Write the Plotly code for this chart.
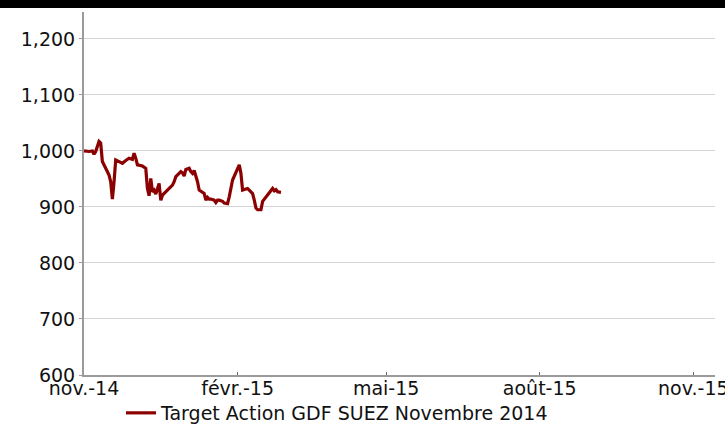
import plotly.graph_objects as go

dates = [
    "2014-11-01", "2014-11-04", "2014-11-06", "2014-11-07", "2014-11-08", "2014-11-10",
    "2014-11-11", "2014-11-12", "2014-11-14", "2014-11-16", "2014-11-17", "2014-11-18",
    "2014-11-19", "2014-11-20", "2014-11-22", "2014-11-24", "2014-11-26", "2014-11-28",
    "2014-11-30", "2014-12-01", "2014-12-02", "2014-12-03", "2014-12-06", "2014-12-08",
    "2014-12-09", "2014-12-10", "2014-12-11", "2014-12-12", "2014-12-13", "2014-12-14",
    "2014-12-16", "2014-12-17", "2014-12-18", "2014-12-20", "2014-12-22", "2014-12-24",
    "2014-12-25", "2014-12-26", "2014-12-28", "2014-12-29", "2014-12-30", "2014-12-31",
    "2015-01-01", "2015-01-03", "2015-01-04", "2015-01-05", "2015-01-06", "2015-01-07",
    "2015-01-08", "2015-01-09", "2015-01-11", "2015-01-12", "2015-01-13", "2015-01-14",
    "2015-01-15", "2015-01-16", "2015-01-18", "2015-01-19", "2015-01-20", "2015-01-21",
    "2015-01-23", "2015-01-24", "2015-01-26", "2015-01-27", "2015-01-29", "2015-01-31",
    "2015-02-02", "2015-02-03", "2015-02-04", "2015-02-05", "2015-02-07", "2015-02-09",
    "2015-02-10", "2015-02-11", "2015-02-12", "2015-02-13", "2015-02-15", "2015-02-16",
    "2015-02-18", "2015-02-20", "2015-02-22", "2015-02-23", "2015-02-24", "2015-02-25",
    "2015-02-26", "2015-02-27",
]
values = [
    1000, 999, 1000, 994, 999, 1017,
    1014, 981, 969, 957, 945, 914,
    945, 984, 981, 978, 983, 987,
    985, 996, 987, 975, 973, 969,
    933, 920, 951, 927, 930, 923,
    942, 912, 921, 927, 933, 939,
    945, 954, 960, 963, 961, 955,
    967, 969, 963, 960, 965, 957,
    945, 930, 927, 924, 912, 917,
    914, 914, 912, 908, 912, 912,
    910, 907, 906, 918, 948, 963,
    975, 960, 930, 931, 933, 927,
    924, 912, 898, 895, 895, 910,
    918, 924, 933, 929, 931, 927,
    926, 926,
]
series_name = "Target Action GDF SUEZ Novembre 2014"

x_tick_vals = ["2014-11-01", "2015-02-01", "2015-05-01", "2015-08-01", "2015-11-01"]
x_tick_text = ["nov.-14", "févr.-15", "mai-15", "août-15", "nov.-15"]
y_tick_vals = [600, 700, 800, 900, 1000, 1100, 1200]

FONT = "DejaVu Sans"
W, H = 725, 431
ML, MR, MT, MB = 84, 10, 12, 56
pw, ph = W - ML - MR, H - MT - MB

fig = go.Figure()
fig.add_trace(go.Scatter(
    x=dates, y=values, mode="lines", name=series_name,
    line=dict(color="#8B0000", width=3.2),
))

fig.update_layout(
    width=W, height=H,
    margin=dict(l=ML, r=MR, t=MT, b=MB, pad=0, autoexpand=False),
    paper_bgcolor="white", plot_bgcolor="white",
    font=dict(family=FONT, size=19, color="#111111"),
    showlegend=True,
    legend=dict(
        orientation="h", x=(121 - ML) / pw, xanchor="left",
        y=-(413 - 375) / ph, yanchor="middle",
        itemwidth=30, font=dict(size=19), bgcolor="rgba(0,0,0,0)",
    ),
    xaxis=dict(
        type="date", range=["2014-11-01", "2015-11-14"],
        tickvals=x_tick_vals, ticktext=x_tick_text,
        showgrid=False, zeroline=False, automargin=False,
        ticklabeloverflow="allow", ticklabelstandoff=-5,
        showline=True, linecolor="#9a9a9a", linewidth=2,
        ticks="inside", ticklen=3, tickcolor="#666666",
    ),
    yaxis=dict(
        range=[600, 1248], tickvals=y_tick_vals, tickformat=",",
        showgrid=True, gridcolor="#d4d4d4", gridwidth=1,
        zeroline=False, automargin=False,
        showline=True, linecolor="#9a9a9a", linewidth=2,
        ticks="outside", ticklen=3, tickcolor="#9a9a9a",
    ),
    shapes=[dict(
        type="rect", xref="paper", yref="paper",
        x0=-ML / pw - 0.01, x1=1 + MR / pw + 0.01,
        y0=1 + (MT - 8) / ph, y1=1 + MT / ph + 0.01,
        fillcolor="black", line=dict(width=0), layer="above",
    )],
)

fig.write_html(
    "out.html",
    config={"displayModeBar": False},
    post_script="document.body.style.margin='0';document.body.style.overflow='hidden';",
)
